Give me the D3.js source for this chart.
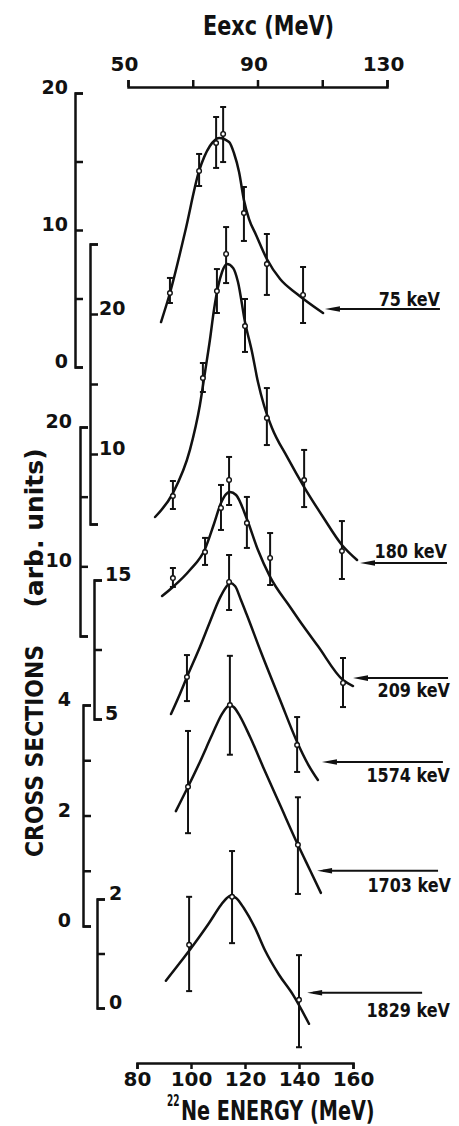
<!DOCTYPE html>
<html>
<head>
<meta charset="utf-8">
<script src="https://cdn.jsdelivr.net/npm/d3@7"></script>
<style>
  body { margin: 0; background: #fff; }
  svg text { font-family: 'DejaVu Sans', sans-serif; font-weight: bold; fill: #111; }
</style>
</head>
<body>
<div id="chart"></div>
<script>
// tick values
var neTicks = [80, 100, 120, 140, 160];
var excTicks = [50, 70, 90, 110, 130];
var excLabels = [50, 90, 130];

// measured points: [22Ne energy MeV, cross section, err low, err high]
var pts75 = [
    [92.2, 5.40, 4.67, 6.50], [103.0, 14.31, 13.21, 15.55], [109.3, 16.35, 14.53, 18.25],
    [111.9, 17.01, 14.96, 18.98], [119.6, 11.24, 9.20, 13.14], [128.1, 7.52, 5.26, 9.71],
    [141.5, 5.26, 3.21, 7.30]
];
var pts180 = [
    [93.3, 7.00, 6.07, 8.07], [104.4, 15.43, 14.43, 16.50], [109.6, 21.64, 20.07, 23.21],
    [113.0, 24.29, 22.21, 26.21], [120.0, 19.14, 17.29, 21.07], [128.1, 12.57, 10.64, 14.71],
    [141.9, 8.14, 6.21, 10.29], [155.9, 3.07, 1.07, 5.21]
];
var pts209 = [
    [93.3, 9.16, 8.52, 9.88], [105.2, 11.03, 10.10, 12.04], [111.1, 14.19, 12.61, 15.84],
    [114.1, 16.20, 14.40, 17.85], [120.7, 13.11, 11.32, 14.98], [129.3, 10.60, 8.66, 12.39],
    [156.3, 1.63, -0.10, 3.42]
];
var pts1574 = [[98.5, 8.02, 6.29, 9.60], [114.1, 14.86, 12.84, 16.80], [139.3, 3.13, 1.19, 5.14]];
var pts1703 = [[98.9, 2.52, 1.68, 3.53], [114.4, 4.00, 3.10, 4.89], [139.6, 1.47, 0.58, 2.33]];
var pts1829 = [[99.3, 1.16, 0.31, 2.04], [115.2, 2.04, 1.19, 2.88], [140.0, 0.15, -0.72, 0.97]];

// hand drawn fit curves: [22Ne energy MeV, cross section]
var fit75 = [[88.9, 3.28], [92.2, 5.40], [97.8, 9.85], [103.0, 14.31], [107.0, 16.13], [110.4, 16.72],
    [114.1, 16.42], [115.9, 15.62], [117.8, 14.23], [119.6, 12.19], [121.5, 10.80], [124.1, 9.64],
    [128.1, 7.88], [133.0, 6.42], [139.3, 5.33], [148.9, 3.94]];
var fit180 = [[86.7, 5.50], [93.3, 7.21], [99.6, 10.29], [103.3, 13.50], [105.2, 15.86], [107.0, 18.14],
    [108.5, 20.29], [110.0, 21.93], [111.5, 23.00], [113.3, 23.57], [115.6, 23.29], [117.4, 22.29],
    [120.0, 19.43], [122.6, 17.29], [124.8, 15.14], [127.0, 13.50], [130.0, 11.86], [135.6, 9.79],
    [141.9, 7.64], [148.9, 5.50], [155.9, 3.50], [161.5, 2.43]];
var fit209 = [[89.3, 7.87], [93.3, 8.52], [99.6, 9.74], [105.2, 11.25], [108.5, 13.04], [111.1, 14.55],
    [113.0, 15.19], [114.4, 15.34], [116.7, 15.12], [120.7, 13.40], [124.8, 11.17], [129.3, 9.24],
    [136.7, 7.08], [140.0, 6.15], [147.0, 4.28], [156.3, 1.84], [160.0, 1.41]];
var fit1574 = [[92.6, 5.36], [95.9, 6.80], [98.5, 8.02], [103.3, 10.18], [107.0, 11.98], [110.7, 13.71],
    [113.0, 14.50], [114.4, 14.78], [116.3, 14.57], [118.5, 13.56], [120.7, 12.48], [125.9, 9.82],
    [133.0, 6.37], [139.3, 3.35], [143.3, 1.76], [147.0, 0.61]];
var fit1703 = [[94.4, 2.08], [98.9, 2.52], [103.3, 2.97], [107.8, 3.46], [111.5, 3.84], [113.3, 3.96],
    [114.4, 4.00], [115.9, 3.96], [118.1, 3.80], [121.9, 3.42], [126.7, 2.88], [133.0, 2.19],
    [139.6, 1.47], [144.1, 1.01], [148.1, 0.60]];
var fit1829 = [[90.7, 0.50], [95.6, 0.81], [101.1, 1.17], [106.7, 1.56], [111.1, 1.89], [113.3, 2.02],
    [114.8, 2.06], [116.7, 2.02], [119.6, 1.83], [123.7, 1.47], [127.4, 1.06], [132.6, 0.61],
    [137.8, 0.24], [143.7, -0.29]];

// arrow: tip [energy, cs], tail energy
var arrows = [[149.6, 4.23, 192.2], [162.6, 2.21, 194.8], [160.0, 1.98, 195.2],
    [148.5, 1.91, 193.3], [146.7, 1.00, 191.5], [143.0, 0.28, 185.6]];
var gateLabels = ['75 keV', '180 keV', '209 keV', '1574 keV', '1703 keV', '1829 keV'];

// each spectrum has its own vertical scale bar
var yDomains = [[0, 20], [5, 25], [5, 20], [5, 15], [0, 4], [0, 2]];
var yTicks = [[0, 5, 10, 15, 20], [5, 10, 15, 20, 25], [5, 10, 15, 20], [5, 10, 15], [0, 1, 2, 3, 4], [0, 1, 2]];
var yLabels = [[0, 10, 20], [10, 20], [10, 20], [5, 15], [0, 2, 4], [0, 2]];

// layout of the scale bars: x position, pixel range, offset of the numbers
var bars = [
    { x: 75, range: [367, 93], off: -7 },
    { x: 90, range: [524, 244], off: 9 },
    { x: 80, range: [636, 427], off: -8 },
    { x: 94, range: [719, 580], off: 11 },
    { x: 83, range: [926, 705], off: -12 },
    { x: 97, range: [1008, 899], off: 12 }
];
var labelPos = [{ x: 440, dy: -3 }, { x: 447, dy: -5 }, { x: 450, dy: 19 },
    { x: 450, dy: 20 }, { x: 451, dy: 21 }, { x: 450, dy: 24 }];

var spectra = [
    { pts: pts75, fit: fit75 }, { pts: pts180, fit: fit180 }, { pts: pts209, fit: fit209 },
    { pts: pts1574, fit: fit1574 }, { pts: pts1703, fit: fit1703 }, { pts: pts1829, fit: fit1829 }
];

var width = 459, height = 1126;

var x = d3.scaleLinear().domain([80, 160]).range([137, 353]);
var xExc = d3.scaleLinear().domain([50, 130]).range([128, 387]);

var svg = d3.select('#chart').append('svg')
    .attr('width', width)
    .attr('height', height);

// narrow lettering: draw text and squeeze it horizontally
function squeezed(tx, ty, sx, size, str, anchor, rot) {
    return svg.append('text')
        .attr('transform', 'translate(' + tx + ',' + ty + ')' + (rot ? ' rotate(' + rot + ')' : '') + ' scale(' + sx + ',1)')
        .attr('text-anchor', anchor || 'start')
        .attr('font-size', size)
        .text(str);
}

/* top axis, excitation energy */
var topAxis = svg.append('g')
    .attr('transform', 'translate(0,87)')
    .call(d3.axisTop(xExc).tickValues(excTicks).tickSize(7).tickSizeOuter(7).tickPadding(9)
        .tickFormat(function (d) { return excLabels.indexOf(d) >= 0 ? d : ''; }));
topAxis.selectAll('text').attr('font-size', 20).attr('dx', -4);

squeezed(203, 35, 0.77, 27, 'Eexc (MeV)');

/* bottom axis, 22Ne energy */
var botAxis = svg.append('g')
    .attr('transform', 'translate(0,1063)')
    .call(d3.axisBottom(x).tickValues(neTicks).tickSize(6).tickSizeOuter(6).tickPadding(3));
botAxis.selectAll('text').attr('font-size', 20);

squeezed(167, 1106, 0.6, 15, '22');
squeezed(181, 1120, 0.74, 26, 'Ne ENERGY (MeV)');

svg.selectAll('.domain, .tick line')
    .attr('stroke', '#111')
    .attr('stroke-width', 2.5);

/* y title */
squeezed(43, 751, 0.875, 25, 'CROSS SECTIONS', 'middle', -90);
squeezed(43, 528, 1.0, 25, '(arb. units)', 'middle', -90);

var line = d3.line().curve(d3.curveMonotoneX);

spectra.forEach(function (s, i) {
    var b = bars[i];
    var y = d3.scaleLinear().domain(yDomains[i]).range(b.range);

    // scale bar: "[" shaped, ticks pointing right
    var g = svg.append('g').attr('transform', 'translate(' + b.x + ',0)');
    g.call(d3.axisRight(y).tickValues(yTicks[i]).tickSize(8).tickSizeOuter(8).tickFormat(''));
    g.selectAll('.domain, .tick line').attr('stroke', '#111').attr('stroke-width', 2.5);

    g.selectAll('text.lab')
        .data(yLabels[i])
        .enter().append('text')
        .attr('class', 'lab')
        .attr('x', b.off)
        .attr('y', function (d) { return y(d) + 1; })
        .attr('text-anchor', b.off < 0 ? 'end' : 'start')
        .attr('font-size', 19)
        .text(function (d) { return d; });

    // fit curve
    svg.append('path')
        .datum(s.fit)
        .attr('fill', 'none')
        .attr('stroke', '#111')
        .attr('stroke-width', 2.5)
        .attr('stroke-linecap', 'round')
        .attr('d', line.x(function (d) { return x(d[0]); }).y(function (d) { return y(d[1]); }));

    // error bars
    var eb = svg.append('g').attr('stroke', '#111').attr('stroke-width', 2);
    eb.selectAll('line.bar')
        .data(s.pts)
        .enter().append('line')
        .attr('x1', function (d) { return x(d[0]); })
        .attr('x2', function (d) { return x(d[0]); })
        .attr('y1', function (d) { return y(d[2]); })
        .attr('y2', function (d) { return y(d[3]); });
    [2, 3].forEach(function (k) {
        eb.selectAll('line.cap' + k)
            .data(s.pts)
            .enter().append('line')
            .attr('x1', function (d) { return x(d[0]) - 3; })
            .attr('x2', function (d) { return x(d[0]) + 3; })
            .attr('y1', function (d) { return y(d[k]); })
            .attr('y2', function (d) { return y(d[k]); });
    });
    svg.append('g').selectAll('circle')
        .data(s.pts)
        .enter().append('circle')
        .attr('cx', function (d) { return x(d[0]); })
        .attr('cy', function (d) { return y(d[1]); })
        .attr('r', 2.3)
        .attr('fill', '#fff')
        .attr('stroke', '#111')
        .attr('stroke-width', 1.4);

    // arrow to the gate label
    var a = arrows[i];
    var ax = x(a[0]), ay = y(a[1]), ax2 = x(a[2]);
    svg.append('line')
        .attr('x1', ax + 6).attr('x2', ax2)
        .attr('y1', ay).attr('y2', ay)
        .attr('stroke', '#111').attr('stroke-width', 2);
    svg.append('path')
        .attr('d', 'M' + ax + ',' + ay + 'L' + (ax + 15) + ',' + (ay - 2.8) + 'L' + (ax + 15) + ',' + (ay + 2.8) + 'Z')
        .attr('fill', '#111');
    squeezed(labelPos[i].x, ay + labelPos[i].dy, 0.8, 20, gateLabels[i], 'end');
});
</script>
</body>
</html>
